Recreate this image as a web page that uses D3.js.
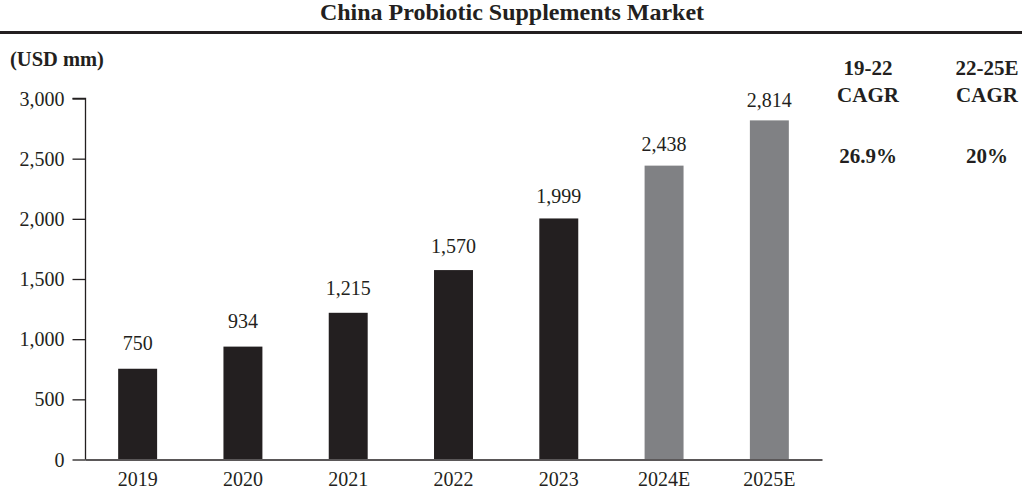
<!DOCTYPE html>
<html>
<head>
<meta charset="utf-8">
<script src="https://cdn.jsdelivr.net/npm/d3@7"></script>
<style>
  html, body { margin: 0; padding: 0; background: #fff; }
  svg { display: block; font-family: "Liberation Serif", "Times New Roman", serif; }
</style>
</head>
<body>
<svg id="chart" width="1022" height="491"></svg>
<script>
const categories = ["2019", "2020", "2021", "2022", "2023", "2024E", "2025E"];
const values = [750, 934, 1215, 1570, 1999, 2438, 2814];
const valueLabels = ["750", "934", "1,215", "1,570", "1,999", "2,438", "2,814"];
const isEstimate = [false, false, false, false, false, true, true];
const yTicks = [0, 500, 1000, 1500, 2000, 2500, 3000];
const cagrHeaders = [["19-22", "CAGR"], ["22-25E", "CAGR"]];
const cagrValues = ["26.9%", "20%"];
const title = "China Probiotic Supplements Market";
const unitLabel = "(USD mm)";

const dark = "#231f20";
const gray = "#808184";

const svg = d3.select("#chart");

// Title and rule
svg.append("text")
  .attr("x", 512).attr("y", 20)
  .attr("text-anchor", "middle")
  .attr("font-weight", "bold")
  .attr("font-size", 24)
  .attr("fill", dark)
  .text(title);

svg.append("rect")
  .attr("x", 0).attr("y", 31)
  .attr("width", 1022).attr("height", 3)
  .attr("fill", dark);

svg.append("text")
  .attr("x", 10).attr("y", 66)
  .attr("font-weight", "bold")
  .attr("font-size", 20.5)
  .attr("fill", dark)
  .text(unitLabel);

// Scales
const x = d3.scaleBand()
  .domain(categories)
  .range([85, 822])
  .paddingInner(0.63)
  .paddingOuter(0.315);

const y = d3.scaleLinear()
  .domain([0, 3000])
  .range([459, 98]);

const labelY = d3.scaleLinear()
  .domain([0, 3000])
  .range([438, 85]);

// Y axis
const yAxis = d3.axisLeft(y)
  .tickValues(yTicks)
  .tickFormat(d3.format(","))
  .tickSize(13)
  .tickPadding(8);

const gy = svg.append("g")
  .attr("transform", "translate(85.5,0.5)")
  .call(yAxis);
gy.select(".domain").attr("stroke", dark).attr("stroke-width", 1.3)
  .attr("d", `M-13,${y(3000)}H0V${y(0)}`);
gy.selectAll(".tick line").attr("stroke", dark).attr("stroke-width", 1.3);
gy.selectAll(".tick text")
  .attr("font-size", 20)
  .attr("font-family", "Liberation Serif, Times New Roman, serif")
  .attr("fill", dark)
  .attr("dy", "0.33em");

// Bars
svg.append("g").selectAll("rect")
  .data(values)
  .join("rect")
  .attr("x", (d, i) => x(categories[i]))
  .attr("y", d => y(d))
  .attr("width", x.bandwidth())
  .attr("height", d => y(0) - y(d))
  .attr("fill", (d, i) => isEstimate[i] ? gray : dark);

// X axis line
const xAxis = d3.axisBottom(x).tickSize(0).tickPadding(12);
const gx = svg.append("g")
  .attr("transform", `translate(0,${y(0) + 0.5})`)
  .call(xAxis);
gx.select(".domain").attr("stroke", dark).attr("stroke-width", 1.3);
gx.selectAll(".tick text")
  .attr("font-size", 20)
  .attr("font-family", "Liberation Serif, Times New Roman, serif")
  .attr("fill", dark)
  .attr("dy", "0.72em");

// Value labels
svg.append("g").selectAll("text")
  .data(values)
  .join("text")
  .attr("x", (d, i) => x(categories[i]) + x.bandwidth() / 2)
  .attr("y", d => labelY(d))
  .attr("text-anchor", "middle")
  .attr("font-size", 20)
  .attr("fill", dark)
  .text((d, i) => valueLabels[i]);

// CAGR columns
const cagrX = [868, 987];
cagrHeaders.forEach((lines, i) => {
  const t = svg.append("text")
    .attr("text-anchor", "middle")
    .attr("font-weight", "bold")
    .attr("font-size", 21)
    .attr("fill", dark);
  lines.forEach((l, j) => {
    t.append("tspan").attr("x", cagrX[i]).attr("y", 75 + j * 27).text(l);
  });
  svg.append("text")
    .attr("x", cagrX[i]).attr("y", 163)
    .attr("text-anchor", "middle")
    .attr("font-weight", "bold")
    .attr("font-size", 21)
    .attr("fill", dark)
    .text(cagrValues[i]);
});
</script>
</body>
</html>
